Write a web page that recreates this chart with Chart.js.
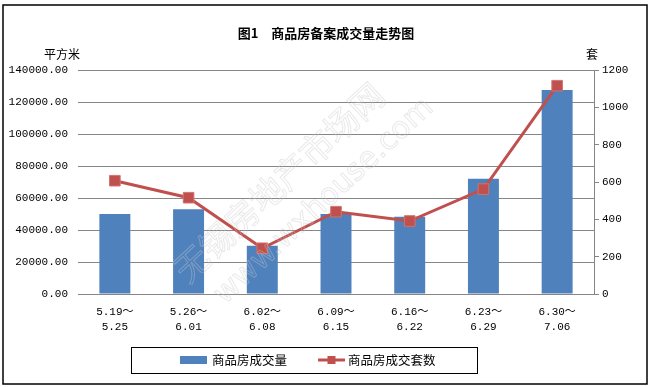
<!DOCTYPE html>
<html>
<head>
<meta charset="utf-8">
<script src="https://cdn.jsdelivr.net/npm/chart.js@4.4.1/dist/chart.umd.min.js"></script>
<style>
  html, body { margin: 0; padding: 0; background: #fff; }
  #wrap { position: relative; width: 651px; height: 387px; }
</style>
</head>
<body>
<div id="wrap"><canvas id="myChart" width="651" height="387"></canvas></div>
<script>
// 数据
const categories = [
  ['5.19～', '5.25'], ['5.26～', '6.01'], ['6.02～', '6.08'], ['6.09～', '6.15'],
  ['6.16～', '6.22'], ['6.23～', '6.29'], ['6.30～', '7.06']
];
const areaValues = [50000, 53000, 30200, 50000, 48300, 72000, 127500];   // 平方米
const unitValues = [607, 516, 245, 441, 391, 562, 1116];                  // 套
const leftTicks = [0, 20000, 40000, 60000, 80000, 100000, 120000, 140000];
const rightTicks = [0, 200, 400, 600, 800, 1000, 1200];

const titleText = '图1　商品房备案成交量走势图';
const seriesNames = ['商品房成交量', '商品房成交套数'];

const monoFont = { family: '"Liberation Mono", "Noto Sans CJK SC", monospace', size: 11 };
const cjk = '"Noto Sans CJK SC", sans-serif';
const gridGray = '#868686';

const decor = {
  id: 'decor',
  afterDraw(chart) {
    const c = chart.ctx;
    c.save();
    // 水印
    c.save();
    c.translate(300, 190);
    c.rotate(-0.75);
    c.strokeStyle = 'rgba(200,200,200,0.4)';
    c.lineWidth = 1;
    c.textAlign = 'center';
    c.textBaseline = 'middle';
    c.font = '34px ' + cjk;
    c.strokeText('无锡房地产市场网', -10, -20);
    c.font = '30px "DejaVu Sans", sans-serif';
    c.strokeText('www.wxhouse.com', 10, 25);
    c.restore();

    // 外框
    c.strokeStyle = '#000';
    c.lineWidth = 1.5;
    c.strokeRect(3, 5, 644, 379);

    // 标题
    c.fillStyle = '#000';
    c.textAlign = 'center';
    c.textBaseline = 'middle';
    c.font = 'bold 13px ' + cjk;
    c.fillText(titleText, 326, 33);

    // 单位
    c.font = '12px ' + cjk;
    c.fillText('平方米', 62, 54);
    c.fillText('套', 592, 54);

    // 图例
    c.lineWidth = 1;
    c.strokeStyle = '#000';
    c.strokeRect(131.5, 347.5, 346, 26);
    const ds = chart.data.datasets;
    c.fillStyle = ds[0].backgroundColor;
    c.fillRect(180, 356, 27, 8);
    c.fillStyle = '#000';
    c.textAlign = 'left';
    c.font = '12.5px ' + cjk;
    c.fillText(ds[0].label, 212, 360);
    c.strokeStyle = ds[1].borderColor;
    c.lineWidth = 3;
    c.beginPath();
    c.moveTo(318, 360);
    c.lineTo(345, 360);
    c.stroke();
    c.fillStyle = ds[1].pointBackgroundColor;
    c.fillRect(327.5, 356, 8, 8);
    c.fillStyle = '#000';
    c.fillText(ds[1].label, 348, 360);
    c.restore();
  }
};

new Chart(document.getElementById('myChart'), {
  data: {
    labels: categories,
    datasets: [
      {
        type: 'bar',
        label: seriesNames[0],
        data: areaValues,
        backgroundColor: '#4F81BD',
        yAxisID: 'y',
        barPercentage: 0.42,
        categoryPercentage: 1,
        order: 1
      },
      {
        type: 'line',
        label: seriesNames[1],
        data: unitValues,
        borderColor: '#C0504D',
        borderWidth: 3,
        pointStyle: 'rect',
        pointRadius: 7.5,
        pointBackgroundColor: '#C0504D',
        pointBorderColor: '#D07370',
        pointBorderWidth: 1,
        yAxisID: 'y1',
        tension: 0,
        order: 0
      }
    ]
  },
  options: {
    responsive: false,
    animation: false,
    layout: { padding: { top: 70, left: 0, right: 0, bottom: 0 } },
    plugins: { legend: { display: false }, title: { display: false }, tooltip: { enabled: false } },
    scales: {
      x: {
        grid: { display: true, drawOnChartArea: false, drawTicks: false },
        border: { display: true, color: gridGray, width: 1 },
        ticks: { color: '#000', font: { ...monoFont, lineHeight: 1.35 }, padding: 11, maxRotation: 0, autoSkip: false },
        afterFit: s => { s.height = 93; }
      },
      y: {
        position: 'left',
        min: 0, max: 140000,
        afterBuildTicks: s => { s.ticks = leftTicks.map(v => ({ value: v })); },
        grid: { color: gridGray, drawTicks: false },
        border: { display: false },
        ticks: { color: '#000', font: monoFont, padding: 10, callback: v => v.toFixed(2) },
        afterFit: s => { s.width = 78; }
      },
      y1: {
        position: 'right',
        min: 0, max: 1200,
        afterBuildTicks: s => { s.ticks = rightTicks.map(v => ({ value: v })); },
        grid: { drawOnChartArea: false, drawTicks: true, tickLength: 5, color: gridGray },
        border: { display: true, color: gridGray },
        ticks: { color: '#000', font: monoFont, padding: 3, callback: v => String(v) },
        afterFit: s => { s.width = 57; }
      }
    }
  },
  plugins: [decor]
});
</script>
</body>
</html>
